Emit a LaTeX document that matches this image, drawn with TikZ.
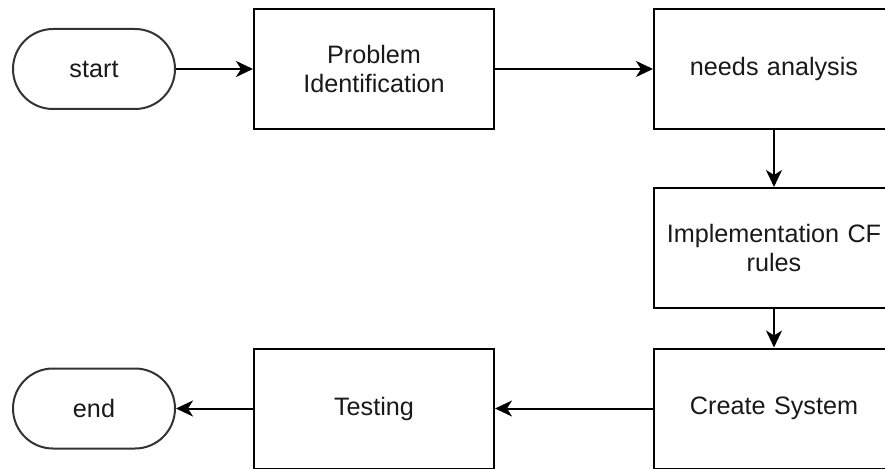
\documentclass[tikz,border=0pt]{standalone}
\usepackage{fontspec}
\setmainfont{Liberation Sans}
\usetikzlibrary{arrows.meta}
\begin{document}
\begin{tikzpicture}[x=1pt,y=-1pt,
  every node/.style={font=\fontsize{25.2}{29}\selectfont, text=black!90},
  procbox/.style={draw, line width=2pt, minimum width=240pt, minimum height=120pt, align=center, inner sep=0pt, text width=232pt},
  pill/.style={draw=black!80, line width=2pt, minimum width=162pt, minimum height=80pt, rounded corners=40pt, inner sep=0pt},
  conn/.style={line width=2pt, -{Stealth[length=17pt, width=16pt, inset=5pt]}}]
\path[use as bounding box, clip] (0,0) rectangle (885,468);
\node[pill] (start) at (94,69) {start};
\node[procbox] (prob) at (374,69) {Problem\\Identification};
\node[procbox] (needs) at (774,69) {needs analysis};
\node[procbox] (impl) at (774,248) {Implementation CF\\rules};
\node[procbox] (create) at (774,408.5) {Create System};
\node[procbox] (test) at (374,408.5) {Testing};
\node[pill] (end) at (94,408.5) {end};
\draw[conn] (start.east) -- (prob.west);
\draw[conn] (prob.east) -- (needs.west);
\draw[conn] (needs.south) -- (impl.north);
\draw[conn] (impl.south) -- (create.north);
\draw[conn] (create.west) -- (test.east);
\draw[conn] (test.west) -- (end.east);
\end{tikzpicture}
\end{document}
